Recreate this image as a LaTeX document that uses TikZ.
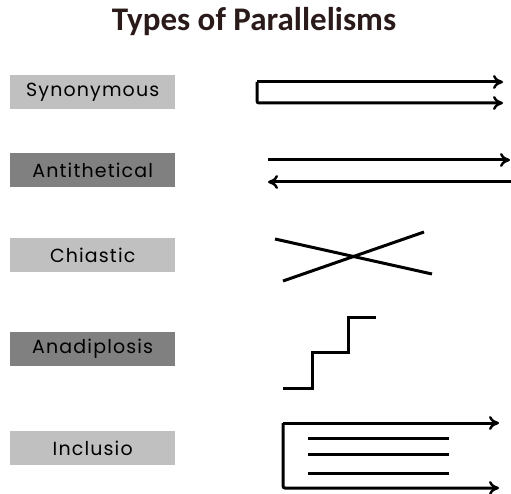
\documentclass[tikz,border=0pt]{standalone}
\usepackage{fontspec}
\setmainfont{Carlito}
\newfontfamily\labfont[LetterSpace=6]{Poppins}
\usetikzlibrary{arrows.meta,shadows}
\definecolor{lightbox}{HTML}{C0C0C0}
\definecolor{darkbox}{HTML}{808080}
\definecolor{titlecol}{HTML}{2A1A1A}
\tikzset{
  lab/.style={minimum width=165pt, minimum height=34pt, inner sep=0pt, anchor=north west, font=\labfont\fontsize{19}{22}\selectfont, text=black},
  lightlab/.style={lab, fill=lightbox},
  darklab/.style={lab, fill=darkbox},
  ln/.style={line width=3pt, black},
  arr/.style={ln, -{To[length=10pt,width=14pt,line width=2.4pt]}},
  arrl/.style={ln, {To[length=10pt,width=14pt,line width=2.4pt]}-}
}
\begin{document}
\begin{tikzpicture}[x=1pt,y=-1pt]
\useasboundingbox (0,0) rectangle (511,494);
\node[font=\bfseries\fontsize{33}{38}\selectfont, text=titlecol] (title) at (254,22) {Types of Parallelisms};
\node[lightlab] (syn) at (10,75) {Synonymous};
\node[darklab] (ant) at (10,153) {Antithetical};
\node[lightlab] (chi) at (10,238) {Chiastic};
\node[darklab] (ana) at (10,332) {Anadiplosis};
\node[lightlab] (inc) at (10,431) {Inclusio};
% Synonymous
\coordinate (s1) at (503,82);
\coordinate (s2) at (257,82);
\coordinate (s3) at (257,103);
\coordinate (s4) at (503,103);
\draw[arr, rounded corners=2pt] (s2) -- (s1);
\draw[arr, rounded corners=2pt] (s1-|s2) -- (s3) -- (s4);
% Antithetical
\coordinate (a1) at (268,160);
\coordinate (a2) at (510,160);
\coordinate (a3) at (268,182);
\coordinate (a4) at (511,182);
\draw[arr] (a1) -- (a2);
\draw[arrl] (a3) -- (a4);
% Chiastic
\coordinate (c1) at (275,239);
\coordinate (c2) at (432,274);
\coordinate (c3) at (283,281);
\coordinate (c4) at (424,232);
\draw[ln] (c1) -- (c2);
\draw[ln] (c3) -- (c4);
% Anadiplosis
\coordinate (d1) at (283,388);
\coordinate (d2) at (376,317);
\draw[ln] (d1) -- (312,388) -- (312,352) -- (348,352) -- (348,317) -- (d2);
% Inclusio
\coordinate (i1) at (499,423);
\coordinate (i2) at (283,423);
\coordinate (i3) at (283,488);
\coordinate (i4) at (499,488);
\draw[arr, rounded corners=2pt] (i1-|i2) -- (i1);
\draw[arr, rounded corners=2pt] (i1-|i2) -- (i3) -- (i4);
\foreach \yy in {438,454,473} \draw[ln] (308,\yy) -- (449,\yy);
\end{tikzpicture}
\end{document}
